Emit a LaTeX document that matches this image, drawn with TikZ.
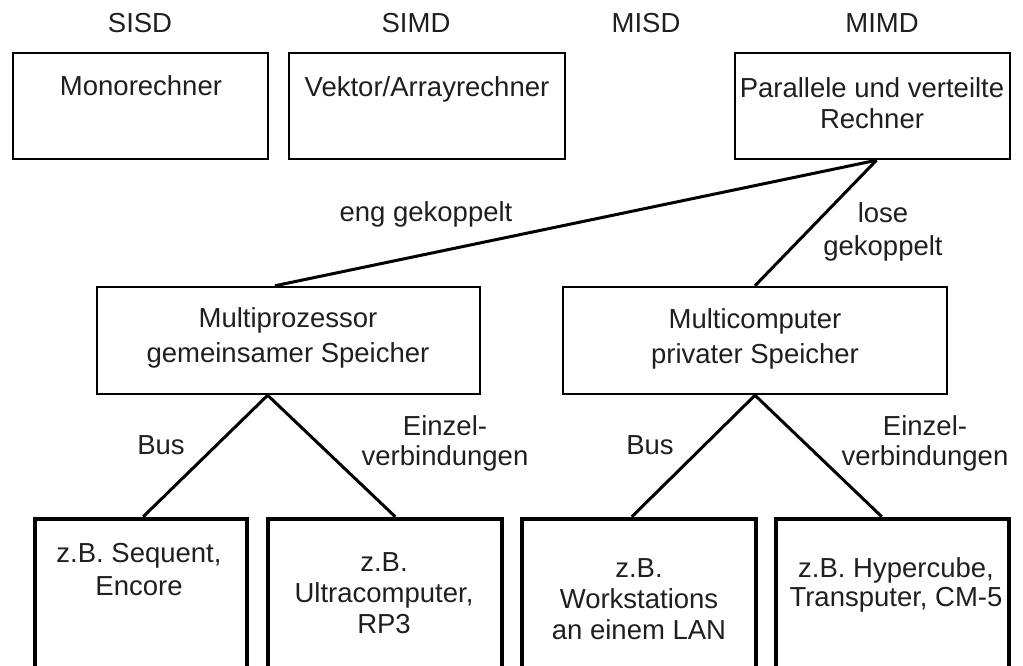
\documentclass[tikz,border=0pt]{standalone}
\usepackage{fontspec}
\setmainfont{Liberation Sans}
\usetikzlibrary{calc}
\begin{document}
\begin{tikzpicture}[x=1pt, y=-1pt,
  box/.style={draw, line width=2.5pt, inner sep=0pt, minimum height=106pt},
  leafbox/.style={draw, line width=4.5pt, inner sep=0pt, minimum height=182pt},
  txt/.style={anchor=north, inner sep=0pt, align=center, text=black!88,
    font=\fontsize{27.5}{31}\selectfont},
  conn/.style={line width=3pt}]
  \useasboundingbox (0,0) rectangle (1023,666);
  \clip (0,0) rectangle (1023,666);

  % Flynn classes
  \node[txt] (sisd) at (140,13) {SISD};
  \node[txt] (simd) at (416,13) {SIMD};
  \node[txt] (misd) at (646,13) {MISD};
  \node[txt] (mimd) at (882,13) {MIMD};

  % top row
  \node[box, minimum width=255pt] (mono) at (140.5,106) {};
  \node[box, minimum width=276pt] (vek)  at (427,106) {};
  \node[box, minimum width=275pt] (par)  at (872.5,106) {};
  \node[txt] (monot) at (141,75) {Monorechner};
  \node[txt] (vekt)  at (427,76) {Vektor/Arrayrechner};
  \node[txt] (part)  at (872,77) {Parallele und verteilte\\Rechner};

  % middle row
  \node[box, minimum width=383pt, minimum height=107pt] (mp) at (288.5,340.5) {};
  \node[box, minimum width=384pt, minimum height=107pt] (mc) at (755,340.5) {};
  \node[txt, font=\fontsize{27.5}{35}\selectfont] (mpt) at (288,307) {Multiprozessor\\gemeinsamer Speicher};
  \node[txt, font=\fontsize{27.5}{35}\selectfont] (mct) at (755,308) {Multicomputer\\privater Speicher};

  % bottom row
  \node[leafbox, minimum width=212pt] (b1) at (141,610) {};
  \node[leafbox, minimum width=234pt] (b2) at (385,610) {};
  \node[leafbox, minimum width=234pt] (b3) at (639,610) {};
  \node[leafbox, minimum width=233pt] (b4) at (892.5,610) {};
  \node[txt, font=\fontsize{27.5}{33}\selectfont] (b1t) at (139,543) {z.B. Sequent,\\Encore};
  \node[txt] (b2t) at (384,552) {z.B.\\Ultracomputer,\\RP3};
  \node[txt] (b3t) at (639,558) {z.B.\\Workstations\\an einem LAN};
  \node[txt, font=\fontsize{27.5}{29}\selectfont] (b4t) at (896,557) {z.B. Hypercube,\\Transputer, CM-5};

  % connectors
  \coordinate (split) at ($(par.south)+(4,0)$);
  \draw[conn] (split) -- ($(mp.north west)!0.465!(mp.north east)$);
  \draw[conn] (split) -- (mc.north);
  \coordinate (mpv) at ($(mp.south west)!0.446!(mp.south east)$);
  \draw[conn] (mpv) -- ($(b1.north west)!0.51!(b1.north east)$);
  \draw[conn] (mpv) -- ($(b2.north west)!0.543!(b2.north east)$);
  \draw[conn] (mc.south) -- ($(b3.north west)!0.47!(b3.north east)$);
  \draw[conn] (mc.south) -- ($(b4.north west)!0.455!(b4.north east)$);

  % connector labels
  \node[txt] (eng)  at (426,201) {eng gekoppelt};
  \node[txt, font=\fontsize{27.5}{33}\selectfont] (lose) at (883,202) {lose\\gekoppelt};
  \node[txt] (busl) at (161,435) {Bus};
  \node[txt, font=\fontsize{27.5}{30}\selectfont] (einl) at (445,415) {Einzel-\\verbindungen};
  \node[txt] (busr) at (650,435) {Bus};
  \node[txt, font=\fontsize{27.5}{30}\selectfont] (einr) at (925,415) {Einzel-\\verbindungen};
\end{tikzpicture}
\end{document}
